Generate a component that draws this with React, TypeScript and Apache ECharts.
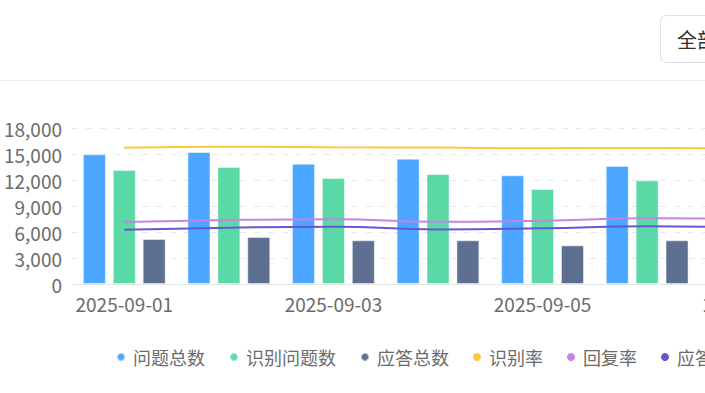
import React, { useEffect, useRef } from "react";
import * as echarts from "echarts";

const categories = ["2025-09-01", "2025-09-02", "2025-09-03", "2025-09-04", "2025-09-05", "2025-09-06", "2025-09-07"];
const totalQuestions = [14970, 15230, 13880, 14460, 12540, 13620, 13200];
const recognizedQuestions = [13150, 13500, 12230, 12690, 10960, 11960, 11480];
const totalAnswers = [5190, 5420, 5040, 5040, 4460, 5040, 4820];
const recognitionRate = [87.4, 88.0, 87.6, 87.5, 87.0, 87.2, 86.9];
const replyRate = [39.7, 41.0, 41.5, 39.9, 40.6, 42.1, 41.8];
const answerRate = [34.8, 36.1, 36.7, 35.0, 35.7, 37.0, 36.6];
const seriesNames = ["问题总数", "识别问题数", "应答总数", "识别率", "回复率", "应答率"];
const colors = ["#4BA7FF", "#5AD8A6", "#5D7092", "#FFC53D", "#C583E3", "#6A55D1"];
const dropdownLabel = "全部";

export default function App() {
  const ref = useRef<HTMLDivElement>(null);
  useEffect(() => {
    if (!ref.current) return;
    const chart = echarts.init(ref.current, undefined, { renderer: "svg" });
    const labelColor = "#6b6b6b";
    const font = "Noto Sans CJK SC";
    const barStyle = (c: string) => ({ color: c, borderColor: "rgba(255,255,255,0.45)", borderWidth: 1 });
    const lineSeries = (i: number, data: number[]) => ({
      name: seriesNames[i],
      type: "line",
      yAxisIndex: 1,
      data,
      smooth: true,
      showSymbol: false,
      color: colors[i],
      itemStyle: { color: colors[i] },
      lineStyle: { width: 2, color: colors[i] },
    });
    chart.setOption({
      animation: false,
      color: colors,
      textStyle: { fontFamily: font },
      graphic: [
        { type: "line", shape: { x1: 0, y1: 80.5, x2: 853, y2: 80.5 }, style: { stroke: "#ebeef5", lineWidth: 1 } },
        { type: "rect", shape: { x: 660.5, y: 15.5, width: 180, height: 47, r: 6 }, style: { fill: "#fff", stroke: "#dcdfe6", lineWidth: 1 } },
        { type: "text", x: 677, y: 39, style: { text: dropdownLabel, fontSize: 20, fill: "#303133", verticalAlign: "middle", fontFamily: font } },
      ],
      legend: {
        data: seriesNames,
        left: 116,
        top: 348,
        padding: 0,
        icon: "circle",
        itemWidth: 8,
        itemHeight: 8,
        itemGap: 24,
        textStyle: { fontSize: 18, color: labelColor, padding: [0, 0, 0, 3], fontFamily: font },
      },
      grid: { left: 72, right: 49, top: 128, bottom: 109, containLabel: false },
      xAxis: {
        type: "category",
        data: categories,
        axisLine: { lineStyle: { color: "#e6e6e6" } },
        axisTick: { show: false },
        axisLabel: { interval: 1, color: labelColor, fontSize: 19, margin: 10, fontFamily: font },
      },
      yAxis: [
        {
          type: "value",
          min: 0,
          max: 18000,
          interval: 3000,
          axisLine: { show: false },
          axisTick: { show: false },
          axisLabel: { color: labelColor, fontSize: 19, margin: 10, fontFamily: font, formatter: (v: number) => v.toLocaleString("en-US") },
          splitLine: { lineStyle: { color: "#e8e8e8", type: [6, 8] } },
        },
        { type: "value", min: 0, max: 100, show: false, splitLine: { show: false } },
      ],
      series: [
        { name: seriesNames[0], type: "bar", data: totalQuestions, barWidth: 23, barGap: "30%", itemStyle: barStyle(colors[0]) },
        { name: seriesNames[1], type: "bar", data: recognizedQuestions, barWidth: 23, barGap: "30%", itemStyle: barStyle(colors[1]) },
        { name: seriesNames[2], type: "bar", data: totalAnswers, barWidth: 23, barGap: "30%", itemStyle: barStyle(colors[2]) },
        lineSeries(3, recognitionRate),
        lineSeries(4, replyRate),
        lineSeries(5, answerRate),
      ],
    });
    return () => chart.dispose();
  }, []);
  return (
    <div style={{ position: "fixed", left: 0, top: 0, width: 705, height: 393, overflow: "hidden", background: "#fff" }}>
      <div ref={ref} style={{ width: 853, height: 393 }} />
    </div>
  );
}
